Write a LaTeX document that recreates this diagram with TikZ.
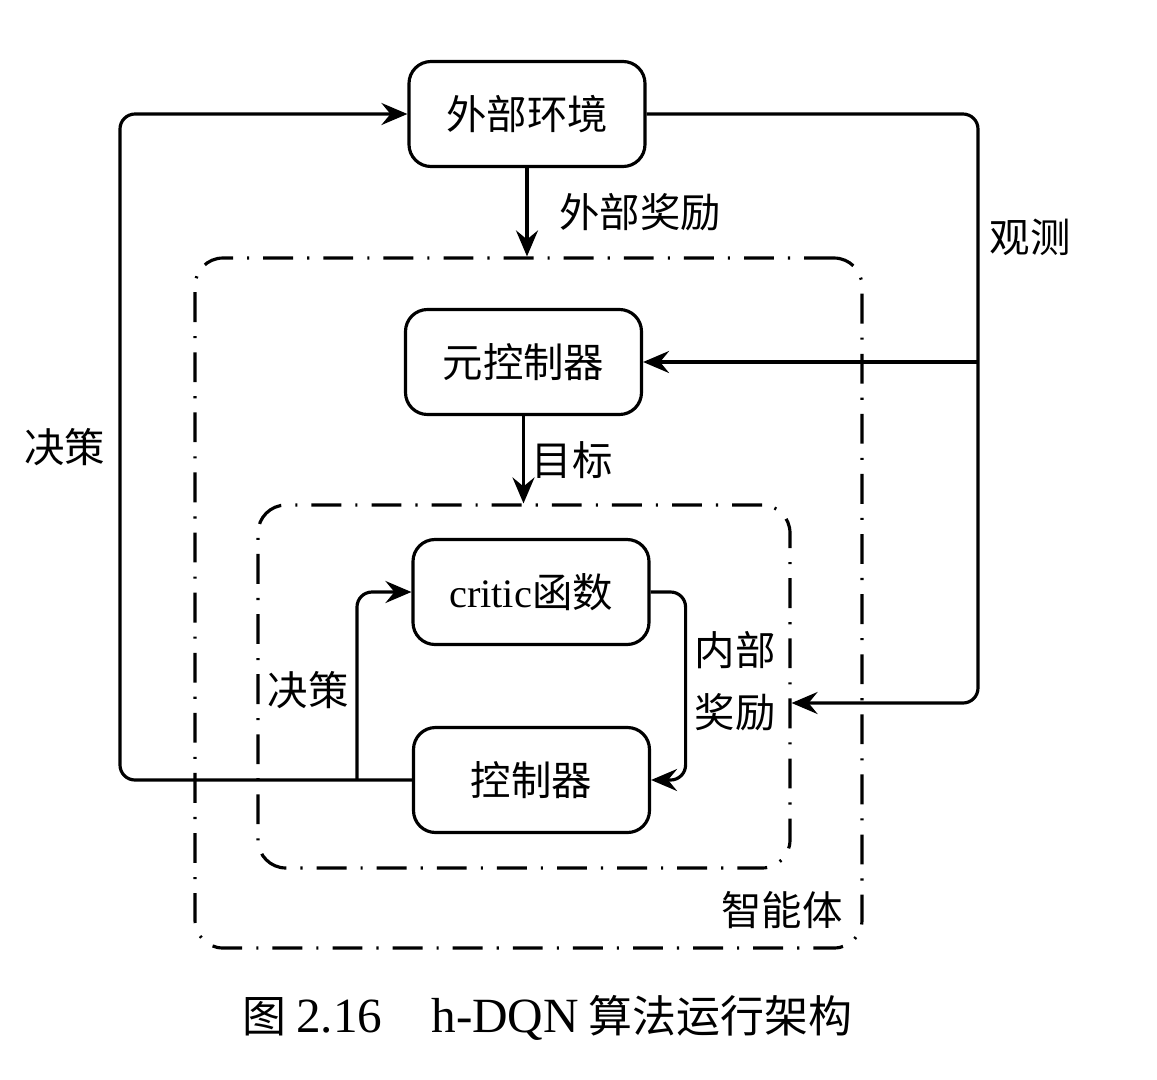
\documentclass[tikz,border=0pt]{standalone}
\usepackage{fontspec}
\setmainfont{Noto Sans CJK SC}
\newfontfamily\lat{Liberation Serif}
\usetikzlibrary{arrows.meta}

\begin{document}
\begin{tikzpicture}[
  box/.style={draw,rounded corners=0.22cm,minimum width=2.36cm,minimum height=1.05cm,line width=0.9pt},
  frame/.style={draw,rounded corners=0.28cm,line width=0.9pt,dash pattern=on 8.5pt off 4pt on 0.6pt off 4pt},
  conn/.style={line width=0.9pt,rounded corners=0.15cm,-{Stealth[length=2.6mm,width=2.2mm,inset=0.9mm]}},
  font=\fontsize{11.5pt}{14pt}\selectfont
]
\useasboundingbox (0,0) rectangle (11.57,-10.79);

% Cadres
\node[frame,minimum width=6.67cm,minimum height=6.9cm] (agent) at (5.285,-6.03) {};
\node[frame,minimum width=5.32cm,minimum height=3.63cm] (inner) at (5.24,-6.865) {};

% Blocs
\node[box] (ext) at (5.27,-1.14) {外部环境};
\node[box] (meta) at (5.235,-3.62) {元控制器};
\node[box] (critic) at (5.31,-5.92) {{\lat critic}函数};
\node[box] (ctrl) at (5.315,-7.80) {控制器};

% Points de passage
\coordinate (obs) at (9.78,-7.03);
\coordinate (decL) at (1.20,0);
\coordinate (decI) at (3.57,0);

% Liaisons
\draw[conn] (ext) -- (ext |- agent.north);
\draw[conn] (meta) -- (meta |- inner.north);
\draw[conn] (ext.east) -| (obs) -- (obs -| inner.east);
\draw[conn,rounded corners=0pt] (obs |- meta.east) -- (meta.east);
\draw[conn] (ctrl.west) -| (decL |- ext.west) -- (ext.west);
\draw[conn] (ctrl.west -| decI) |- (critic.west);
\draw[conn] (critic.east) -- ++(0.35,0) |- (ctrl.east);

% Etiquettes
\node (lext) at (6.40,-2.12) {外部奖励};
\node (lobs) at (10.30,-2.37) {观测};
\node (lgoal) at (5.72,-4.60) {目标};
\node (ldecL) at (0.65,-4.47) {决策};
\node (ldecI) at (3.08,-6.90) {决策};
\node (lin1) at (7.35,-6.50) {内部};
\node (lin2) at (7.35,-7.12) {奖励};
\node (lagent) at (7.82,-9.10) {智能体};

% Legende
\node[anchor=west,font=\fontsize{12.5pt}{15pt}\selectfont] (cap) at (2.30,-10.18)
{图 {\lat\fontsize{14pt}{15pt}\selectfont 2.16\quad h-DQN} 算法运行架构};

\end{tikzpicture}
\end{document}
